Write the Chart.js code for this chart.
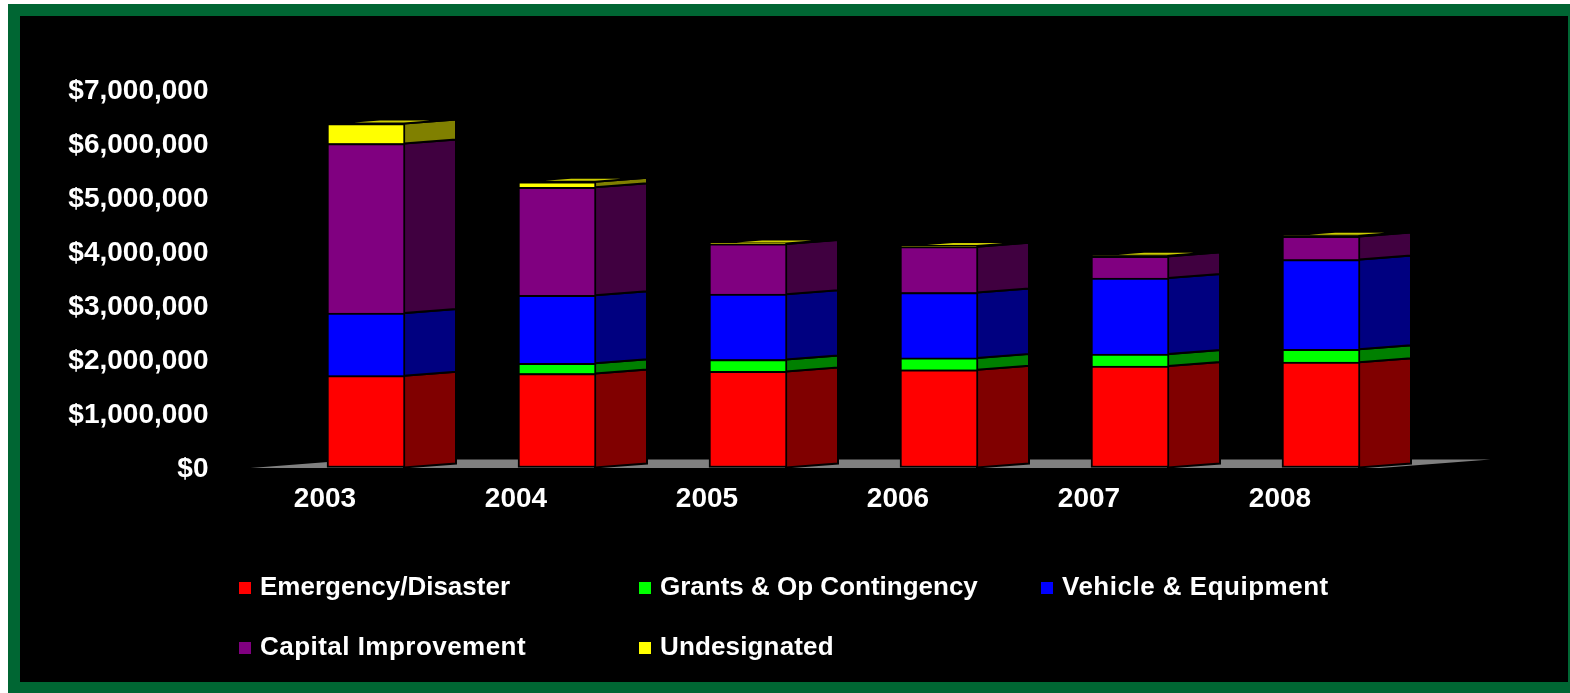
<!DOCTYPE html>
<html>
<head>
<meta charset="utf-8">
<style>
html,body{margin:0;padding:0;background:#fff;width:1570px;height:693px;overflow:hidden}
#green{position:absolute;left:8px;top:4px;width:1562px;height:689px;background:#006633}
#black{position:absolute;left:20px;top:16px;width:1548px;height:666px;background:#000}
#wrap{position:absolute;left:0;top:0;width:1570px;height:693px}
.lg{position:absolute;display:flex;align-items:center;height:30px;font:bold 26px "Liberation Sans",Arial,sans-serif;color:#fff;white-space:nowrap}
.lg i{display:block;width:12px;height:12px;margin:4px 9px 0 0}
</style>
</head>
<body>
<div id="green"></div>
<div id="black"></div>
<div id="wrap"><canvas id="c" width="1570" height="693"></canvas></div>
<div id="legend"></div>
<script src="https://cdn.jsdelivr.net/npm/chart.js@4/dist/chart.umd.min.js"></script>
<script>
const categories = ["2003","2004","2005","2006","2007","2008"];
const emergency = [1700000,1740000,1780000,1810000,1880000,1950000];
const grants    = [0,190000,220000,220000,220000,240000];
const vehicle   = [1160000,1260000,1210000,1210000,1410000,1660000];
const capital   = [3140000,2000000,930000,850000,400000,430000];
const undesig   = [370000,100000,10000,10000,10000,10000];
const yTickLabels = ["$0","$1,000,000","$2,000,000","$3,000,000","$4,000,000","$5,000,000","$6,000,000","$7,000,000"];
const seriesNames = ["Emergency/Disaster","Grants & Op Contingency","Vehicle & Equipment","Capital Improvement","Undesignated"];
const frontColors = ["#ff0000","#00ff00","#0000ff","#800080","#ffff00"];
const sideColors  = ["#800000","#008000","#000080","#400040","#808000"];
const seriesValues = [emergency,grants,vehicle,capital,undesig];

const DX = 52, DY = 4;

const box3d = {
  id: "box3d",
  beforeDatasetsDraw(chart) {
    const ctx = chart.ctx, a = chart.chartArea;
    // floor
    ctx.save();
    ctx.fillStyle = "#808080";
    ctx.beginPath();
    ctx.moveTo(a.left - 20, a.bottom + 0.5);
    ctx.lineTo(a.right - 36, a.bottom + 0.5);
    ctx.lineTo(a.right + 74, a.bottom - 8);
    ctx.lineTo(a.left + 90, a.bottom - 8);
    ctx.closePath();
    ctx.fill();
    // side faces and top
    ctx.strokeStyle = "#000";
    ctx.lineWidth = 2;
    const last = chart.data.datasets.length - 1;
    chart.data.datasets.forEach((ds, i) => {
      chart.getDatasetMeta(i).data.forEach((bar, j) => {
        if (!ds.data[j]) return;
        const r = bar.x + bar.width / 2 - 1, l = bar.x - bar.width / 2 + 1;
        ctx.fillStyle = sideColors[i];
        ctx.beginPath();
        ctx.moveTo(r, bar.y);
        ctx.lineTo(r + DX, bar.y - DY);
        ctx.lineTo(r + DX, bar.base - DY);
        ctx.lineTo(r, bar.base);
        ctx.closePath();
        ctx.fill();
        ctx.stroke();
        if (i === last) {
          ctx.fillStyle = "#cccc00";
          ctx.beginPath();
          ctx.moveTo(l, bar.y);
          ctx.lineTo(r, bar.y);
          ctx.lineTo(r + DX, bar.y - DY);
          ctx.lineTo(l + DX, bar.y - DY);
          ctx.closePath();
          ctx.fill();
          ctx.stroke();
        }
      });
    });
    ctx.restore();
  }
};

const chart = new Chart(document.getElementById("c"), {
  type: "bar",
  data: {
    labels: categories,
    datasets: seriesNames.map((name, i) => ({
      label: name,
      data: seriesValues[i],
      backgroundColor: frontColors[i],
      borderColor: "#000",
      borderWidth: 2,
      borderSkipped: i === 0 ? false : "start",
      barThickness: 78,
      clip: false
    }))
  },
  options: {
    responsive: false,
    animation: false,
    layout: { padding: { left: 0, right: 153.5, top: 89.5, bottom: 0 } },
    plugins: { legend: { display: false }, tooltip: { enabled: false }, title: { display: false } },
    scales: {
      x: {
        stacked: true,
        grid: { display: false, drawTicks: false },
        border: { display: false },
        afterFit(s) { s.height = 225.5; },
        ticks: {
          color: "#fff",
          font: { family: "'Liberation Sans'", size: 28, weight: "bold" },
          labelOffset: -41,
          padding: 15,
          maxRotation: 0,
          autoSkip: false
        }
      },
      y: {
        stacked: true,
        min: 0,
        max: 7000000,
        grid: { display: false, drawTicks: false },
        border: { display: false },
        afterFit(s) { s.width = 270.5; },
        ticks: {
          color: "#fff",
          stepSize: 1000000,
          padding: 62,
          labelOffset: 2,
          font: { family: "'Liberation Sans'", size: 28, weight: "bold" },
          callback(v, idx) { return yTickLabels[idx]; }
        }
      }
    }
  },
  plugins: [box3d]
});

// legend, from the chart's own datasets
const legendSlots = [[239,571],[639,571],[1041,571],[239,631],[639,631]];
const legendSpacing = [0,0,0.5,0.47,0.15];
const host = document.getElementById("legend");
chart.data.datasets.forEach((ds, i) => {
  const d = document.createElement("div");
  d.className = "lg";
  d.style.left = legendSlots[i][0] + "px";
  d.style.top = legendSlots[i][1] + "px";
  d.style.letterSpacing = legendSpacing[i] + "px";
  const sw = document.createElement("i");
  sw.style.background = ds.backgroundColor;
  d.appendChild(sw);
  d.appendChild(document.createTextNode(ds.label));
  host.appendChild(d);
});
</script>
</body>
</html>
